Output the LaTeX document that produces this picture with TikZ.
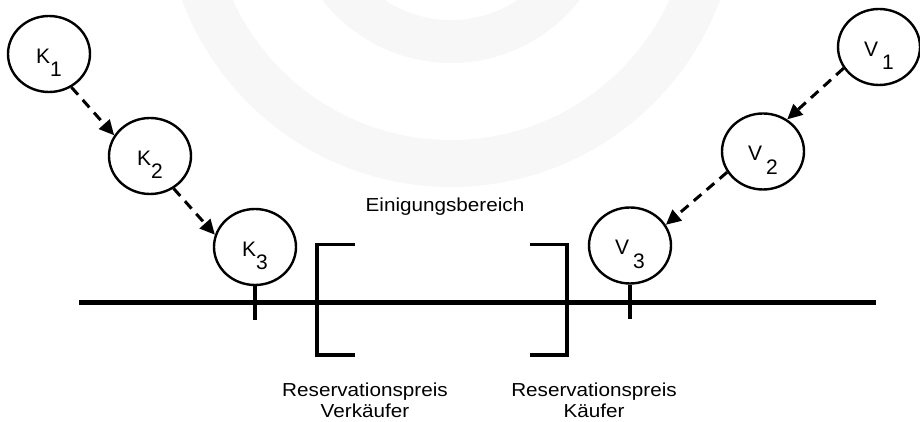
\documentclass[tikz,border=0pt]{standalone}
\usepackage{fontspec}
\setmainfont{Liberation Sans}
\newfontfamily\widesans[FakeStretch=1.1]{Liberation Sans}
\usetikzlibrary{
		shapes.geometric,
		arrows.meta
	}
\definecolor{ringgrey}{HTML}{F7F7F7}
\tikzset{
		>={Triangle[length=15pt,width=14pt]},
		party/.style={draw, ellipse, line width=2.4pt, minimum width=82pt, minimum height=76pt,
			inner sep=0pt, text height=19pt, text depth=0pt, font=\fontsize{21}{25}\selectfont},
		offer/.style={->, line width=3pt, dash pattern=on 10pt off 7pt},
		pricetick/.style={line width=3.5pt},
		bracket/.style={line width=3.5pt},
		caption/.style={font=\widesans\fontsize{18.8}{21.7}\selectfont, inner sep=0pt, align=center}
	}
% name with a lowered index
\newcommand{\bidder}[2]{#1\smash{\raisebox{-.63em}{#2}}}

\begin{document}
\begin{tikzpicture}[x=1pt, y=1pt] % one unit = 1pt
		\useasboundingbox (0,0) rectangle (920,422);
		% faint rings in the back
		\begin{scope}
			\clip (0,0) rectangle (920,422);
			\draw[ringgrey, line width=43pt] (451,522) circle (141.5);
			\draw[ringgrey, line width=47pt] (451,522) circle (263.5);
		\end{scope}
		% price axis
		\draw[line width=4.5pt] (79,119.5) -- (876,119.5);
		% buyers (K) and sellers (V)
		\node[party] (K1) at (49,368) {\bidder{K}{1}};
		\node[party] (K2) at (150,266) {\bidder{K}{2}};
		\node[party] (K3) at (255,175) {\bidder{K}{3}};
		\node[party] (V1) at (879,375) {\bidder{V\kern4pt}{1}};
		\node[party] (V2) at (763,270.5) {\bidder{V\kern4pt}{2}};
		\node[party] (V3) at (630,176.5) {\bidder{V\kern4pt}{3}};
		\draw[offer] (K1.-56) -- (K2.150);
		\draw[offer] (K2.-54) -- (K3.163);
		\draw[offer] (V1.-149) -- (V2.53);
		\draw[offer] (V2.-150) -- (V3.30);
		\draw[pricetick] (K3.south) -- ++(0,-34);
		\draw[pricetick] (V3.south) -- ++(0,-34);
		% the two reservation prices
		\draw[bracket] (355,177.7) -- (317,177.7) -- (317,67) -- (355,67);
		\draw[bracket] (530,177.7) -- (567,177.7) -- (567,67) -- (530,67);
		\node[caption, anchor=base] (range) at (445,210.3) {Einigungsbereich};
		\node[caption, anchor=north] (seller) at (365,39.7) {Reservationspreis\\Verkäufer};
		\node[caption, anchor=north] (buyer) at (594,39.7) {Reservationspreis\\Käufer};
	\end{tikzpicture}
\end{document}
